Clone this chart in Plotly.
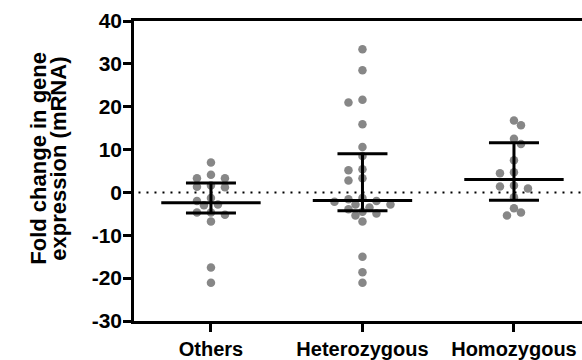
import plotly.graph_objects as go

categories = ["Others", "Heterozygous", "Homozygous"]
others = [7.0, 4.1, 3.3, 3.3, 1.6, 1.3, 1.2, -1.3, -2.0, -2.8, -3.0, -4.7, -4.7, -5.2, -6.8, -17.5, -21.1]
heterozygous = [33.4, 28.5, 21.6, 21.0, 15.9, 10.6, 8.5, 5.4, 5.2, 3.3, 2.8, -1.3, -1.6, -2.0, -2.2,
                -2.8, -2.8, -3.5, -3.9, -4.5, -4.9, -5.4, -6.8, -15.0, -18.6, -21.1]
homozygous = [16.8, 15.7, 12.5, 11.3, 7.5, 4.7, 4.5, 1.6, 1.4, 0.9, -1.1, -3.7, -4.7, -5.4]
medians = [-2.4, -1.9, 3.0]
q1 = [-4.8, -4.3, -1.8]
q3 = [2.2, 9.0, 11.6]
y_ticks = [-30, -20, -10, 0, 10, 20, 30, 40]
y_tick_labels = ["-30", "-20", "-10", "0", "10", "20", "30", "40"]

W, H = 582, 360
ML, MR, MT, MB = 134, 0, 21, 36
XR = [-0.508, 2.449]
YR = [-30, 40]
XPX = (W - ML - MR) / (XR[1] - XR[0])
YPX = (H - MT - MB) / (YR[1] - YR[0])


def swarm(vals, center, step=7.0, diam=8.0):
    placed = []
    xs = []
    cands = [0]
    for m in range(1, 30):
        cands += [m, -m] if m % 2 else [-m, m]
    for v in vals:
        ypx = v * YPX
        for c in cands:
            if all((c * step - px) ** 2 + (ypx - py) ** 2 >= diam ** 2 for px, py in placed):
                break
        placed.append((c * step, ypx))
        xs.append(center + c * step / XPX)
    return xs


groups = [others, heterozygous, homozygous]
fig = go.Figure()
for i, vals in enumerate(groups):
    fig.add_trace(go.Scatter(
        x=swarm(vals, i), y=vals, mode="markers",
        marker=dict(size=8.5, color="#878787", line=dict(width=0)),
        showlegend=False, hoverinfo="y"))

fig.add_trace(go.Scatter(
    x=list(range(len(categories))), y=medians, mode="markers",
    marker=dict(symbol="line-ew-open", size=71, color="black", line=dict(width=3, color="black")),
    error_y=dict(type="data", symmetric=False,
                 array=[b - m for b, m in zip(q3, medians)],
                 arrayminus=[m - a for a, m in zip(q1, medians)],
                 width=25, thickness=3, color="black"),
    showlegend=False, hoverinfo="skip"))

fig.add_shape(type="line", xref="paper", yref="y", x0=0.01, x1=1, y0=0, y1=0,
              line=dict(color="black", width=2, dash="2px,6px"), layer="below")

font = dict(family="Arial, Liberation Sans, sans-serif", color="black", weight="bold")

fig.update_layout(
    width=W, height=H, autosize=False,
    margin=dict(l=ML, r=MR, t=MT, b=MB, pad=0),
    plot_bgcolor="white", paper_bgcolor="white",
    xaxis=dict(range=XR, tickmode="array", tickvals=list(range(len(categories))), ticktext=categories,
               showline=True, linecolor="black", linewidth=2.5, mirror=True,
               ticks="outside", ticklen=8, tickwidth=2.5, tickcolor="black",
               showgrid=False, zeroline=False, tickfont=dict(size=20, **font)),
    yaxis=dict(range=YR, tickmode="array", tickvals=y_ticks, ticktext=y_tick_labels,
               showline=True, linecolor="black", linewidth=2.5,
               ticks="outside", ticklen=8, tickwidth=2.5, tickcolor="black",
               ticklabelstandoff=-3,
               showgrid=False, zeroline=False, tickfont=dict(size=21, **font)),
    annotations=[
        dict(text="Fold change in gene", xref="paper", yref="paper", x=0, y=0.541,
             xshift=-95, xanchor="center", yanchor="middle", textangle=-90, showarrow=False,
             font=dict(size=22, **font)),
        dict(text="expression (mRNA)", xref="paper", yref="paper", x=0, y=0.541,
             xshift=-75, xanchor="center", yanchor="middle", textangle=-90, showarrow=False,
             font=dict(size=22, **font)),
    ],
)

fig.write_html("out.html")
